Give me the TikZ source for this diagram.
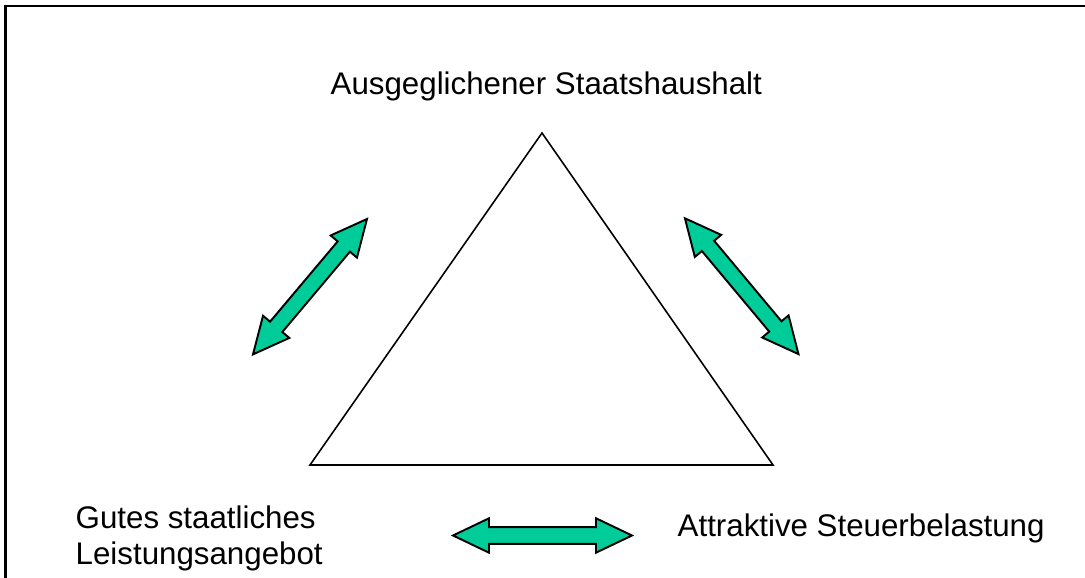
\documentclass[tikz,border=0pt]{standalone}
\usepackage{fontspec}
\setmainfont{Liberation Sans}
\definecolor{pfeilgruen}{RGB}{0,204,153}
\tikzset{
  doppelpfeil/.style={fill=pfeilgruen, draw=black, line width=0.55pt, line join=miter},
  beschriftung/.style={font=\fontsize{8.9}{10.3}\selectfont, inner sep=0pt}
}

\begin{document}
\begin{tikzpicture}

      \useasboundingbox (0,0) rectangle (10.85,5.78);

      % Rahmen
      \coordinate (rahmenunten) at (0.055,0);
      \coordinate (rahmenrechts) at (10.85,5.722);
      \draw[line width=0.6pt] (rahmenunten) |- (rahmenrechts);

      % Dreieck
      \coordinate (spitze) at (5.42,4.45);
      \coordinate (links)  at (3.10,1.13);
      \coordinate (rechts) at (7.73,1.13);
      \draw[line width=0.45pt, line join=miter] (spitze) -- (rechts) -- (links) -- cycle;

      \begin{scope}[every node/.style={beschriftung}]
        \node[anchor=base west] (haushalt) at (3.30,4.83) {Ausgeglichener Staatshaushalt};
        \node[anchor=base west, align=left] (leistung) at (0.75,0.13) {Gutes staatliches\\Leistungsangebot};
        \node[anchor=base west] (steuer) at (6.77,0.41) {Attraktive Steuerbelastung};
      \end{scope}

      % Doppelpfeile
      \begin{scope}[shift={(3.10,2.913)}, rotate=49.9]
        \draw[doppelpfeil] (-0.885,0) -- (-0.525,0.172) -- (-0.525,0.08) -- (0.525,0.08) -- (0.525,0.172)
          -- (0.885,0) -- (0.525,-0.172) -- (0.525,-0.08) -- (-0.525,-0.08) -- (-0.525,-0.172) -- cycle;
      \end{scope}
      \begin{scope}[shift={(7.417,2.918)}, rotate=-50.1]
        \draw[doppelpfeil] (-0.885,0) -- (-0.525,0.172) -- (-0.525,0.08) -- (0.525,0.08) -- (0.525,0.172)
          -- (0.885,0) -- (0.525,-0.172) -- (0.525,-0.08) -- (-0.525,-0.08) -- (-0.525,-0.172) -- cycle;
      \end{scope}
      \begin{scope}[shift={(5.425,0.425)}]
        \draw[doppelpfeil] (-0.895,0) -- (-0.535,0.172) -- (-0.535,0.083) -- (0.535,0.083) -- (0.535,0.172)
          -- (0.895,0) -- (0.535,-0.172) -- (0.535,-0.083) -- (-0.535,-0.083) -- (-0.535,-0.172) -- cycle;
      \end{scope}

    \end{tikzpicture}
\end{document}
